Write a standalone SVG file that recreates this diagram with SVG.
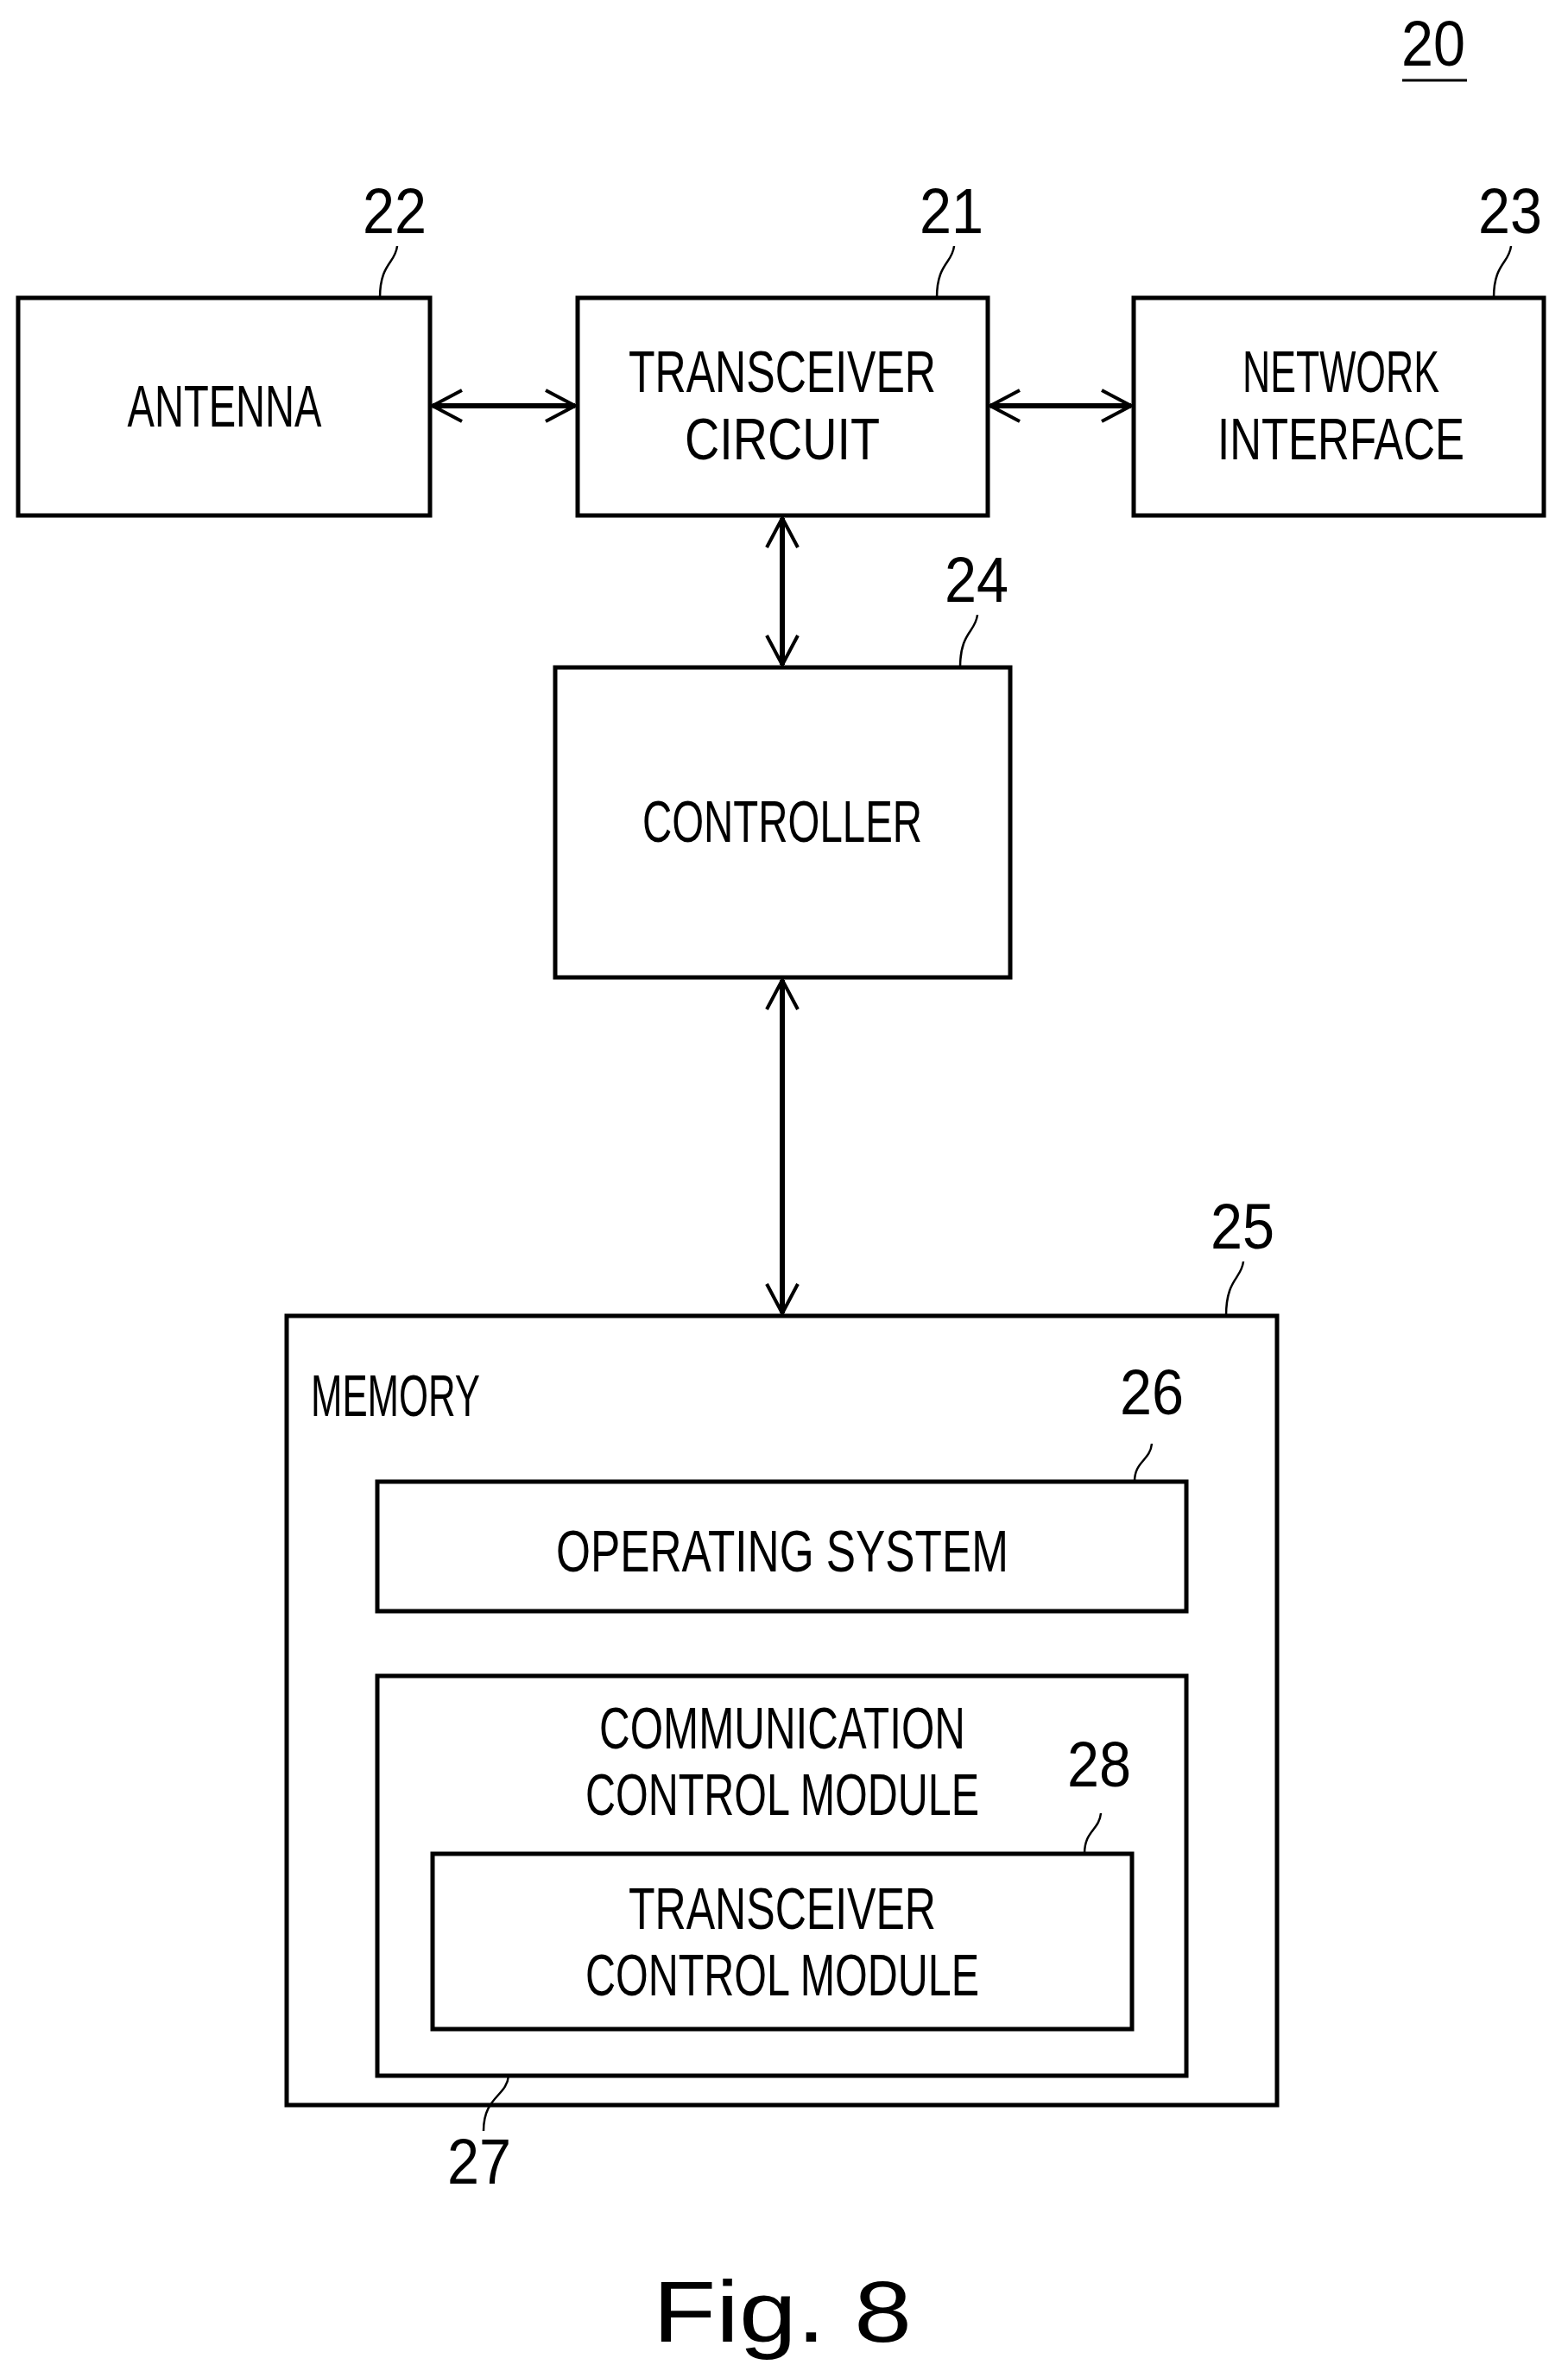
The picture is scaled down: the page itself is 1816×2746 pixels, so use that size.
<svg xmlns="http://www.w3.org/2000/svg" width="1816" height="2746" viewBox="0 0 1816 2746">
<defs>
<marker id="ah" viewBox="0 0 40 40" refX="38" refY="20" markerWidth="40" markerHeight="40" markerUnits="userSpaceOnUse" orient="auto-start-reverse"><path d="M4 2 L38 20 L4 38" fill="none" stroke="#000" stroke-width="4"/></marker>
</defs>
<style>
rect{fill:#fff;stroke:#000;stroke-width:5}
text{font-family:"Liberation Sans",Arial,sans-serif;font-size:68px;fill:#000;text-anchor:middle}
.n{font-size:74px}
.c line{stroke:#000;stroke-width:6;marker-start:url(#ah);marker-end:url(#ah)}
.l{fill:none;stroke:#000;stroke-width:2.5}
</style>
<rect x="0" y="0" width="1816" height="2746" style="stroke:none"/>
<g id="fig20"><text class="n" x="1660" y="76" textLength="74" lengthAdjust="spacingAndGlyphs">20</text><line x1="1624" y1="93" x2="1699" y2="93" stroke="#000" stroke-width="3"/></g>
<g id="antenna"><rect x="21" y="345" width="477" height="252"/><text x="260" y="494" textLength="225" lengthAdjust="spacingAndGlyphs">ANTENNA</text>
<text class="n" x="457" y="270" textLength="74" lengthAdjust="spacingAndGlyphs">22</text><path class="l" d="M460 285 C458 305 440 305 440 345"/></g>
<g id="transceiver"><rect x="669" y="345" width="475" height="252"/><text x="906" y="454" textLength="356" lengthAdjust="spacingAndGlyphs">TRANSCEIVER</text><text x="906" y="532" textLength="226" lengthAdjust="spacingAndGlyphs">CIRCUIT</text>
<text class="n" x="1102" y="270" textLength="74" lengthAdjust="spacingAndGlyphs">21</text><path class="l" d="M1105 285 C1103 305 1085 305 1085 345"/></g>
<g id="network"><rect x="1313" y="345" width="475" height="252"/><text x="1553" y="454" textLength="228" lengthAdjust="spacingAndGlyphs">NETWORK</text><text x="1553" y="532" textLength="286" lengthAdjust="spacingAndGlyphs">INTERFACE</text>
<text class="n" x="1749" y="270" textLength="74" lengthAdjust="spacingAndGlyphs">23</text><path class="l" d="M1750 285 C1748 305 1730 305 1730 345"/></g>
<g id="controller"><rect x="643" y="773" width="527" height="359"/><text x="906" y="975" textLength="324" lengthAdjust="spacingAndGlyphs">CONTROLLER</text>
<text class="n" x="1131" y="697" textLength="74" lengthAdjust="spacingAndGlyphs">24</text><path class="l" d="M1132 712 C1130 732 1112 732 1112 773"/></g>
<g id="memory"><rect x="332" y="1524" width="1147" height="914"/><text x="458" y="1640" textLength="196" lengthAdjust="spacingAndGlyphs">MEMORY</text>
<text class="n" x="1439" y="1446" textLength="74" lengthAdjust="spacingAndGlyphs">25</text><path class="l" d="M1440 1461 C1438 1481 1420 1481 1420 1524"/></g>
<g id="os"><rect x="437" y="1716" width="937" height="150"/><text x="906" y="1820" textLength="524" lengthAdjust="spacingAndGlyphs">OPERATING SYSTEM</text>
<text class="n" x="1334" y="1638" textLength="74" lengthAdjust="spacingAndGlyphs">26</text><path class="l" d="M1334 1672 C1332 1692 1314 1692 1314 1716"/></g>
<g id="comm"><rect x="437" y="1941" width="937" height="463"/><text x="906" y="2025" textLength="424" lengthAdjust="spacingAndGlyphs">COMMUNICATION</text><text x="906" y="2102" textLength="456" lengthAdjust="spacingAndGlyphs">CONTROL MODULE</text>
<text class="n" x="555" y="2529" textLength="74" lengthAdjust="spacingAndGlyphs">27</text><path class="l" d="M589 2404 C587 2428 560 2428 560 2468"/></g>
<g id="tcm"><rect x="501" y="2147" width="810" height="203"/><text x="906" y="2234" textLength="356" lengthAdjust="spacingAndGlyphs">TRANSCEIVER</text><text x="906" y="2311" textLength="456" lengthAdjust="spacingAndGlyphs">CONTROL MODULE</text>
<text class="n" x="1273" y="2069" textLength="74" lengthAdjust="spacingAndGlyphs">28</text><path class="l" d="M1275 2100 C1273 2120 1256 2120 1256 2147"/></g>
<g id="connectors" class="c">
<line x1="501" y1="470" x2="666" y2="470"/>
<line x1="1147" y1="470" x2="1310" y2="470"/>
<line x1="906" y1="600" x2="906" y2="770"/>
<line x1="906" y1="1135" x2="906" y2="1521"/>
</g>
<text x="906" y="2712" style="font-size:100px" textLength="300" lengthAdjust="spacingAndGlyphs">Fig. 8</text>
</svg>
